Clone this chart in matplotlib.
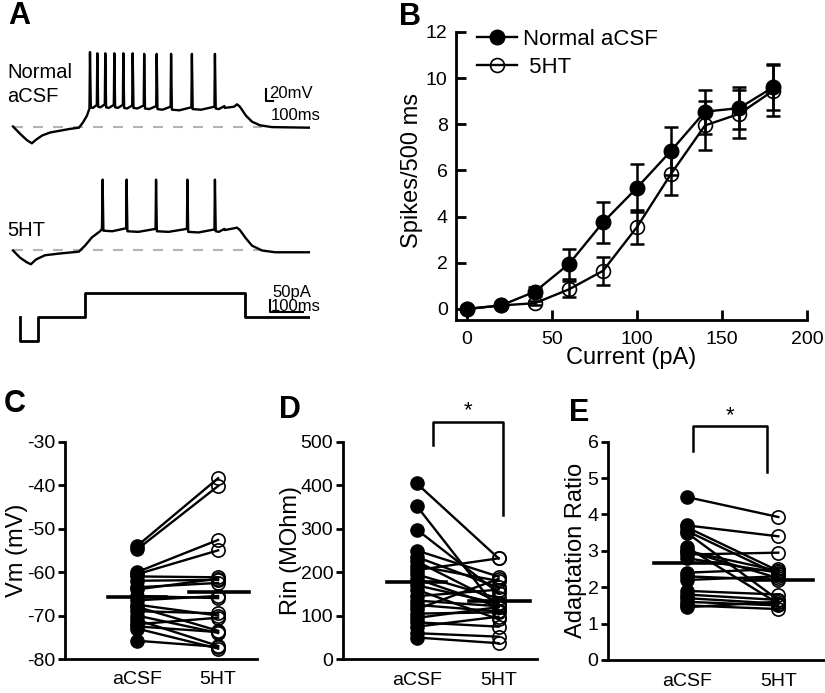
import numpy as np
import matplotlib
matplotlib.use("Agg")
import matplotlib.pyplot as plt

plt.rcParams['font.family'] = ['Liberation Sans', 'DejaVu Sans']
plt.rcParams['axes.unicode_minus'] = False

# ---------------- data ----------------
# A: example traces, time in ms (0 = step onset), voltage in mV relative to rest
stim_t = [-203, -203, -147, -147, 0, 0, 500, 500, 700]
stim_pA = [0, -100, -100, 0, 0, 100, 100, 0, 0]

acsf_pre_t = [-225, -203, -181, -166, -153, -134, -109, -78, -47, -19, -6, 6, 14]
acsf_pre_v = [0, -12, -23, -28, -22, -15, -10, -7, -4, -2, 7, 18, 30]
acsf_spk_t = [15.6, 38.5, 63.4, 91.6, 119.8, 149, 185, 224, 269, 334, 406]
acsf_spk_peak = [124, 122, 122, 122, 122, 122, 121, 121, 121, 121, 121]
acsf_ahp = [32, 33, 32, 32, 31, 31, 30, 29, 28, 29, 30]
acsf_post_t = [437, 466, 475, 484, 503, 522, 547, 584, 703]
acsf_post_v = [31, 33, 37, 33, 18, 8, 2, -1, -2]

ht_pre_t = [-225, -203, -181, -169, -153, -125, -78, -19, 0, 22, 47, 53]
ht_pre_v = [0, -12, -20, -23, -15, -8, -5, -2, 8, 22, 32, 36]
ht_spk_t = [55, 130, 222, 320, 406]
ht_spk_peak = [118, 118, 118, 118, 118]
ht_ahp = [33, 32, 32, 31, 32]
ht_post_t = [437, 466, 475, 484, 503, 522, 553, 594, 703]
ht_post_v = [34, 37, 38, 34, 20, 8, 0, -3, -3]

# B: F-I curve
current = [0, 20, 40, 60, 80, 100, 120, 140, 160, 180]
acsf_spikes = [0.0, 0.15, 0.75, 1.95, 3.75, 5.25, 6.85, 8.55, 8.7, 9.6]
acsf_sem = [0.0, 0.05, 0.2, 0.65, 0.9, 1.05, 1.05, 0.95, 0.9, 1.0]
ht_spikes = [0.0, 0.15, 0.25, 0.85, 1.65, 3.55, 5.85, 7.95, 8.45, 9.45]
ht_sem = [0.0, 0.05, 0.1, 0.35, 0.6, 0.75, 0.9, 1.05, 1.05, 1.1]

# C: resting membrane potential (mV)
vm_acsf = [-54.0, -54.8, -60.0, -60.5, -61.0, -62.0, -63.5, -64.0, -65.5, -66.5,
           -67.5, -68.0, -69.0, -70.0, -71.0, -72.0, -72.5, -73.0, -75.8]
vm_5ht = [-38.4, -40.2, -52.6, -55.0, -61.2, -61.8, -62.5, -61.5, -66.0, -65.5,
          -70.0, -73.5, -69.5, -74.0, -77.0, -70.5, -73.8, -77.6, -77.2]

# D: input resistance (MOhm)
rin_acsf = [404, 352, 298, 250, 235, 225, 215, 205, 195, 185, 170,
            160, 145, 135, 125, 115, 105, 95, 85, 75, 60, 50]
rin_5ht = [232, 112, 152, 190, 165, 130, 180, 232, 140, 120, 128,
           92, 160, 122, 110, 185, 108, 120, 75, 98, 52, 37]

# E: adaptation ratio
ar_acsf = [4.48, 3.70, 3.65, 3.55, 3.50, 3.10, 3.00, 2.90, 2.80, 2.40,
           2.30, 2.20, 1.90, 1.80, 1.70, 1.60, 1.50, 1.45, 3.00]
ar_5ht = [3.93, 3.40, 2.45, 2.35, 1.65, 1.55, 2.25, 2.95, 2.40, 2.50,
          2.20, 2.30, 1.80, 1.65, 1.55, 1.50, 1.40, 1.60, 2.45]

W, H = 825, 693
fig = plt.figure(figsize=(W / 100, H / 100), dpi=100)


def box(l, t, r, b):
    return [l / W, 1 - b / H, (r - l) / W, (b - t) / H]


def build_trace(pre_t, pre_v, spk_t, peak, ahp, post_t, post_v):
    t, v = list(pre_t), list(pre_v)
    for i, ts in enumerate(spk_t):
        nxt = spk_t[i + 1] if i + 1 < len(spk_t) else post_t[0]
        gap = nxt - ts
        t += [ts, ts + 2.5, ts + 0.4 * gap, nxt - 1.5]
        v += [peak[i], ahp[i], ahp[i] - 1, ahp[i] + 4]
    return t + list(post_t), v + list(post_v)


# ---------------- A ----------------
axA = fig.add_axes(box(0, 35, 310, 350))
axA.set_xlim(-265.6, 703.1)
axA.set_ylim(0, 525)
axA.axis('off')

top_off, mid_off, stim_off = 372.5, 165.9, 55
for off in (top_off, mid_off):
    axA.plot([-225, 553], [off, off], color='#b3b3b3', lw=1.5,
             linestyle=(0, (4.8, 4.8)), zorder=1)

t, v = build_trace(acsf_pre_t, acsf_pre_v, acsf_spk_t, acsf_spk_peak, acsf_ahp,
                   acsf_post_t, acsf_post_v)
axA.plot(t, np.array(v) + top_off, color='k', lw=1.7, zorder=2)
t, v = build_trace(ht_pre_t, ht_pre_v, ht_spk_t, ht_spk_peak, ht_ahp,
                   ht_post_t, ht_post_v)
axA.plot(t, np.array(v) + mid_off, color='k', lw=1.7, zorder=2)
axA.plot(stim_t, np.array(stim_pA) * 0.4 + stim_off, color='k', lw=2, zorder=2)

# scale bars
axA.plot([587, 566, 566], [415, 415, 435], color='k', lw=1.5)
axA.text(576, 428, '20mV', fontsize=12, va='center', ha='left')
axA.text(582, 391, '100ms', fontsize=12, va='center', ha='left')
axA.plot([681, 578, 578], [63.3, 63.3, 83.3], color='k', lw=1.5)
axA.text(585, 96, '50pA', fontsize=12, va='center', ha='left')
axA.text(582, 73, '100ms', fontsize=12, va='center', ha='left')

axA.text(-244, 463, 'Normal', fontsize=14.5, va='center', ha='left')
axA.text(-244, 423, 'aCSF', fontsize=14.5, va='center', ha='left')
axA.text(-244, 200, '5HT', fontsize=14.5, va='center', ha='left')

# ---------------- B ----------------
axB = fig.add_axes(box(456, 32, 807, 320))
axB.errorbar(current, acsf_spikes, yerr=acsf_sem, fmt='none', ecolor='k',
             elinewidth=1.8, capsize=5, capthick=1.8, zorder=2)
axB.errorbar(current, ht_spikes, yerr=ht_sem, fmt='none', ecolor='k',
             elinewidth=1.8, capsize=5, capthick=1.8, zorder=2)
axB.plot(current, acsf_spikes, '-o', color='k', lw=1.7, ms=10.5,
         label='Normal aCSF', zorder=3, clip_on=False)
axB.plot(current, ht_spikes, '-o', color='k', lw=1.7, ms=10, mfc='none',
         mew=1.2, label=' 5HT', zorder=3, clip_on=False)
axB.set_xlim(-6.47, 200)
axB.set_ylim(-0.48, 12)
axB.set_xticks([0, 50, 100, 150, 200])
axB.set_yticks([0, 2, 4, 6, 8, 10, 12])
axB.tick_params(direction='in', length=7, width=2, labelsize=14)
axB.tick_params(axis='y', pad=6)
axB.tick_params(axis='x', pad=8)
for s in ('top', 'right'):
    axB.spines[s].set_visible(False)
for s in ('left', 'bottom'):
    axB.spines[s].set_linewidth(2)
axB.set_ylabel('Spikes/500 ms', fontsize=17, va='center')
axB.yaxis.set_label_coords(-0.125, 0.52)
axB.set_xlabel('Current (pA)', fontsize=17, labelpad=-1)
axB.legend(loc='upper left', bbox_to_anchor=(0.06, 1.01), frameon=False,
           fontsize=16, handlelength=1.8, handletextpad=0.25, numpoints=1,
           labelspacing=0.3, borderpad=0, borderaxespad=0)


# ---------------- C, D, E ----------------
def paired(ax, before, after, ylim, yticks, ylabel, xlim, lab_x):
    for a, b in zip(before, after):
        ax.plot([1, 2], [a, b], color='k', lw=1.7, zorder=2)
    ax.plot(np.ones(len(before)), before, 'o', ms=9.5, color='k', zorder=3)
    ax.plot(np.full(len(after), 2), after, 'o', ms=9.5, mfc='none', mec='k',
            mew=1.2, zorder=3)
    ax.plot([0.64, 1.36], [np.mean(before)] * 2, color='k', lw=2.6, zorder=4)
    ax.plot([1.64, 2.38], [np.mean(after)] * 2, color='k', lw=2.6, zorder=4)
    ax.set_xlim(*xlim)
    ax.set_ylim(*ylim)
    ax.set_yticks(yticks)
    ax.set_xticks([1, 2])
    ax.set_xticklabels(['aCSF', '5HT'])
    ax.tick_params(axis='y', direction='out', length=5, width=2, labelsize=14, pad=2)
    ax.tick_params(axis='x', length=0, labelsize=14, pad=9)
    for s in ('top', 'right'):
        ax.spines[s].set_visible(False)
    for s in ('left', 'bottom'):
        ax.spines[s].set_linewidth(2)
    ax.set_ylabel(ylabel, fontsize=17, va='center')
    ax.yaxis.set_label_coords(lab_x, 0.5)


def bracket(ax, x1, x2, y_top, y1, y2):
    ax.plot([x1, x1, x2, x2], [y1, y_top, y_top, y2], color='k', lw=1.8,
            clip_on=False)
    ax.text((x1 + x2) / 2, y_top, '*', fontsize=16, ha='center', va='bottom')


axC = fig.add_axes(box(65, 441.7, 257, 659))
paired(axC, vm_acsf, vm_5ht, (-80, -30), range(-80, -29, 10), 'Vm (mV)',
       (0.111, 2.48), -0.25)

axD = fig.add_axes(box(343, 441.7, 537, 659.3))
paired(axD, rin_acsf, rin_5ht, (0, 500), range(0, 501, 100), 'Rin (MOhm)',
       (0.097, 2.47), -0.27)
bracket(axD, 1.2, 2.05, 546, 492, 331)

axE = fig.add_axes(box(608.3, 441.7, 825, 660))
paired(axE, ar_acsf, ar_5ht, (0, 6), range(0, 7), 'Adaptation Ratio',
       (0.144, 2.51), -0.15)
bracket(axE, 1.07, 1.88, 6.44, 5.75, 5.17)

# panel letters
for letter, x, y in [('A', 8, 16), ('B', 399, 17), ('C', 4, 404),
                     ('D', 279, 410), ('E', 569, 413)]:
    fig.text(x / W, 1 - y / H, letter, fontsize=22, fontweight='bold',
             ha='left', va='center')

fig.savefig('out.png', dpi=100)
